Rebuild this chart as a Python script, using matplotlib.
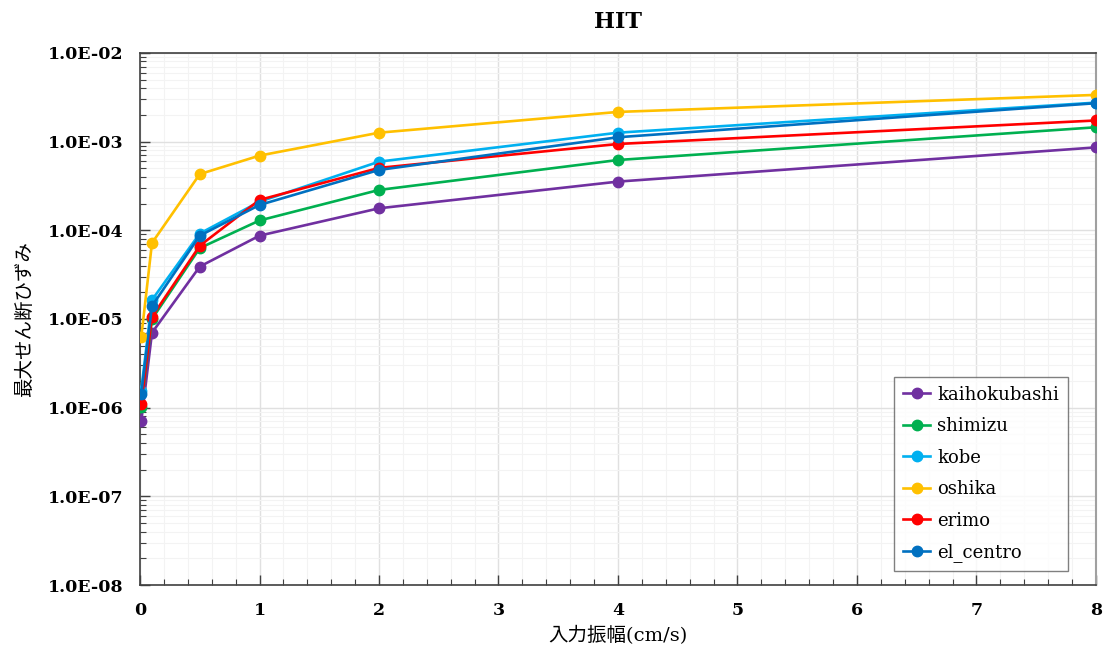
import numpy as np
import matplotlib
matplotlib.use("Agg")
import matplotlib.pyplot as plt
from matplotlib.ticker import FixedLocator, LogLocator, MultipleLocator, FuncFormatter, NullFormatter

# -------------------------------------------------------------------------
# Data
# -------------------------------------------------------------------------
amplitude = [0.01, 0.1, 0.5, 1, 2, 4, 8]

kaihokubashi = [7.0e-7, 7.0e-6, 3.9e-5, 8.7e-5, 1.77e-4, 3.54e-4, 8.6e-4]
shimizu = [1.03e-6, 1.0e-5, 6.3e-5, 1.29e-4, 2.85e-4, 6.2e-4, 1.45e-3]
kobe = [1.56e-6, 1.64e-5, 9.2e-5, 2.1e-4, 5.94e-4, 1.26e-3, 2.75e-3]
oshika = [6.2e-6, 7.2e-5, 4.3e-4, 6.95e-4, 1.26e-3, 2.16e-3, 3.36e-3]
erimo = [1.1e-6, 1.06e-5, 6.7e-5, 2.2e-4, 5.05e-4, 9.4e-4, 1.73e-3]
el_centro = [1.42e-6, 1.4e-5, 8.7e-5, 1.93e-4, 4.79e-4, 1.12e-3, 2.71e-3]

series_names = ["kaihokubashi", "shimizu", "kobe", "oshika", "erimo", "el_centro"]
series_values = [kaihokubashi, shimizu, kobe, oshika, erimo, el_centro]
series_colors = ["#7030A0", "#00B050", "#00B0F0", "#FFC000", "#FF0000", "#0070C0"]

plt.rcParams["font.family"] = ["DejaVu Serif", "Noto Sans CJK JP"]

# -------------------------------------------------------------------------
# Plot
# -------------------------------------------------------------------------
fig = plt.figure(figsize=(11.07, 6.53), dpi=100)
ax = fig.add_axes([0.1265, 0.104, 0.8635, 0.815])

for name, vals, col in zip(series_names, series_values, series_colors):
    ax.plot(amplitude, vals, "-o", color=col, lw=1.9, ms=7.5, label=name, zorder=3)

ax.set_yscale("log")
ax.set_xlim(0, 8)
ax.set_ylim(1e-8, 1e-2)

ax.xaxis.set_major_locator(MultipleLocator(1))
ax.xaxis.set_minor_locator(MultipleLocator(0.2))
ax.yaxis.set_major_locator(FixedLocator(10.0 ** np.arange(-8, -1)))
ax.yaxis.set_minor_locator(LogLocator(base=10, subs=np.arange(2, 10), numticks=20))
ax.yaxis.set_minor_formatter(NullFormatter())
ax.yaxis.set_major_formatter(FuncFormatter(lambda v, p: "1.0E-%02d" % round(-np.log10(v))))

ax.grid(which="major", color="#e0e0e0", lw=1.0)
ax.grid(which="minor", color="#f3f3f3", lw=0.8)
ax.set_axisbelow(True)

ax.tick_params(which="both", direction="in", color="#404040")
ax.tick_params(which="major", length=7, width=1.0, labelsize=12.5, pad=12)
ax.tick_params(which="minor", length=4, width=0.8)
for lbl in ax.get_xticklabels() + ax.get_yticklabels():
    lbl.set_fontweight("bold")

for side in ["left", "bottom", "top"]:
    ax.spines[side].set_color("#404040")
    ax.spines[side].set_linewidth(1.2)
ax.spines["right"].set_color("#a0a0a0")
ax.spines["right"].set_linewidth(1.5)

ax.set_title("HIT", fontsize=16, fontweight="bold", pad=18)
ax.set_xlabel("入力振幅(cm/s)", fontsize=14, labelpad=5)
ax.set_ylabel("最大せん断ひずみ", fontsize=14, labelpad=10)

leg = ax.legend(loc="lower right", bbox_to_anchor=(0.971, 0.026), fontsize=13,
                frameon=True, fancybox=False, edgecolor="#606060",
                labelspacing=0.75, handlelength=1.5, handletextpad=0.4,
                borderpad=0.5, borderaxespad=0)
leg.get_frame().set_linewidth(1.0)

fig.savefig("out.png", dpi=100)
